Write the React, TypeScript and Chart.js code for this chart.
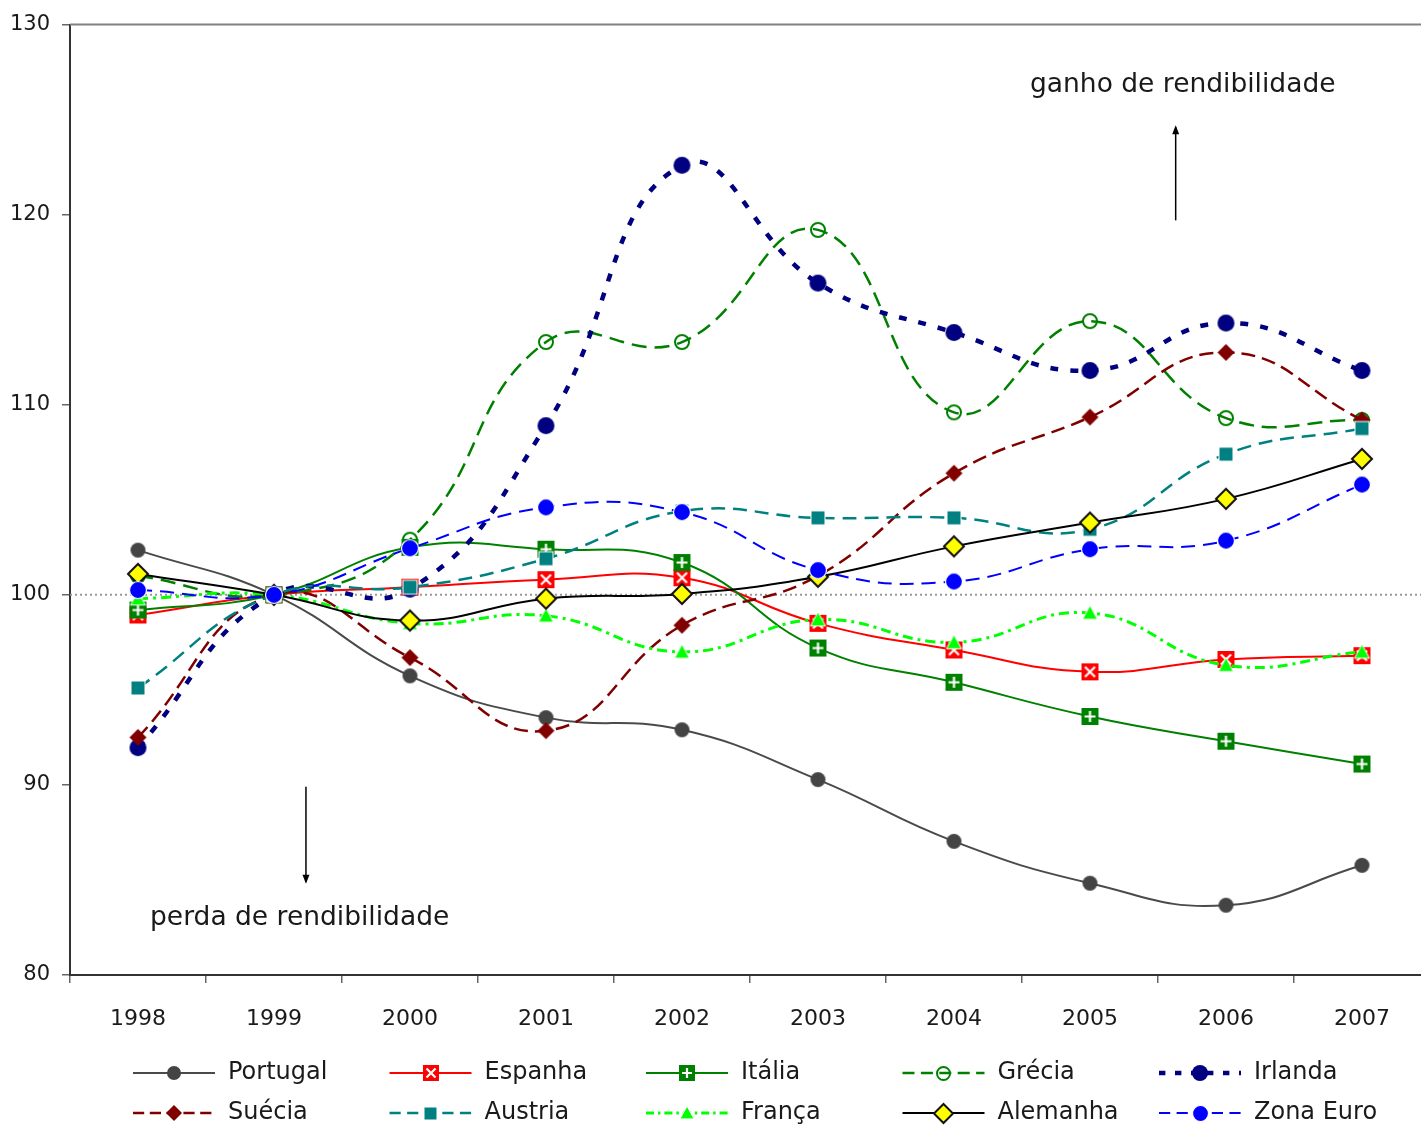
import React, { useEffect, useRef } from "react";
import { Chart, registerables } from "chart.js";

Chart.register(...registerables);

const FONT = '"DejaVu Sans", sans-serif';

const years = ["1998", "1999", "2000", "2001", "2002", "2003", "2004", "2005", "2006", "2007"];
const yTicks = [80, 90, 100, 110, 120, 130];

const portugal = [102.35, 100, 95.74, 93.54, 92.9, 90.28, 87.03, 84.83, 83.67, 85.77];
const espanha = [98.94, 100, 100.4, 100.8, 100.9, 98.5, 97.1, 95.95, 96.6, 96.8];
const italia = [99.2, 100, 102.5, 102.4, 101.7, 97.2, 95.4, 93.6, 92.3, 91.1];
const grecia = [101.0, 100, 102.9, 113.3, 113.3, 119.2, 109.6, 114.4, 109.3, 109.2];
const irlanda = [91.96, 100, 100.3, 108.9, 122.6, 116.4, 113.8, 111.8, 114.3, 111.8];
const suecia = [92.5, 100, 96.7, 92.85, 98.4, 101.0, 106.4, 109.35, 112.75, 109.2];
const austria = [95.1, 100, 100.4, 101.9, 104.4, 104.05, 104.05, 103.45, 107.4, 108.75];
const franca = [99.8, 100, 98.5, 98.9, 97.0, 98.7, 97.5, 99.05, 96.3, 97.0];
const alemanha = [101.1, 100, 98.65, 99.8, 100.05, 100.95, 102.55, 103.8, 105.05, 107.15];
const zonaEuro = [100.25, 100, 102.45, 104.6, 104.35, 101.3, 100.7, 102.4, 102.85, 105.8];

const seriesNames = ["Portugal", "Espanha", "Itália", "Grécia", "Irlanda", "Suécia", "Austria", "França", "Alemanha", "Zona Euro"];
const seriesData = [portugal, espanha, italia, grecia, irlanda, suecia, austria, franca, alemanha, zonaEuro];

type Style = { color: string; width: number; dash: number[]; marker: string; mColor: string; size: number };
const styles: Style[] = [
  { color: "#4a4a4a", width: 2, dash: [], marker: "circle", mColor: "#444444", size: 15 },
  { color: "#ff0000", width: 2, dash: [], marker: "squareX", mColor: "#ff0000", size: 17 },
  { color: "#008000", width: 2, dash: [], marker: "squarePlus", mColor: "#008000", size: 17 },
  { color: "#008000", width: 2.5, dash: [15, 8], marker: "open", mColor: "#008000", size: 16 },
  { color: "#000080", width: 4.5, dash: [8, 12], marker: "circle", mColor: "#000080", size: 17 },
  { color: "#800000", width: 2.5, dash: [14, 7], marker: "diamond", mColor: "#800000", size: 17 },
  { color: "#008080", width: 2.5, dash: [14, 8], marker: "square", mColor: "#008080", size: 14 },
  { color: "#00ff00", width: 3, dash: [10, 5, 3, 5], marker: "triangle", mColor: "#00ff00", size: 15 },
  { color: "#000000", width: 2, dash: [], marker: "diamondB", mColor: "#ffff00", size: 22 },
  { color: "#0000ff", width: 2, dash: [14, 8], marker: "circleW", mColor: "#0000ff", size: 18 },
];

function makeMarker(kind: string, color: string, size: number): HTMLCanvasElement {
  const pad = 2;
  const d = Math.ceil(size + pad * 2);
  const c = document.createElement("canvas");
  c.width = d;
  c.height = d;
  const ctx = c.getContext("2d")!;
  const m = d / 2;
  const h = size / 2;
  ctx.lineJoin = "miter";
  switch (kind) {
    case "circle":
      ctx.beginPath();
      ctx.arc(m, m, h, 0, Math.PI * 2);
      ctx.fillStyle = color;
      ctx.fill();
      break;
    case "circleW":
      ctx.beginPath();
      ctx.arc(m, m, h - 0.5, 0, Math.PI * 2);
      ctx.fillStyle = color;
      ctx.fill();
      ctx.strokeStyle = "#ffffff";
      ctx.lineWidth = 1.2;
      ctx.stroke();
      break;
    case "open":
      ctx.beginPath();
      ctx.arc(m, m, h - 1, 0, Math.PI * 2);
      ctx.strokeStyle = color;
      ctx.lineWidth = 2;
      ctx.stroke();
      break;
    case "squareX":
      ctx.fillStyle = color;
      ctx.fillRect(m - h, m - h, size, size);
      ctx.strokeStyle = "#ffffff";
      ctx.lineWidth = 2.2;
      ctx.beginPath();
      ctx.moveTo(m - h + 3.5, m - h + 3.5);
      ctx.lineTo(m + h - 3.5, m + h - 3.5);
      ctx.moveTo(m + h - 3.5, m - h + 3.5);
      ctx.lineTo(m - h + 3.5, m + h - 3.5);
      ctx.stroke();
      break;
    case "squarePlus":
      ctx.fillStyle = color;
      ctx.fillRect(m - h, m - h, size, size);
      ctx.strokeStyle = "#ffffff";
      ctx.lineWidth = 2.2;
      ctx.beginPath();
      ctx.moveTo(m, m - h + 3);
      ctx.lineTo(m, m + h - 3);
      ctx.moveTo(m - h + 3, m);
      ctx.lineTo(m + h - 3, m);
      ctx.stroke();
      break;
    case "square":
      ctx.fillStyle = color;
      ctx.fillRect(m - h, m - h, size, size);
      ctx.strokeStyle = "#ffffff";
      ctx.lineWidth = 1;
      ctx.strokeRect(m - h, m - h, size, size);
      break;
    case "diamond":
    case "diamondB": {
      const k = kind === "diamondB" ? 1 : 0;
      ctx.beginPath();
      ctx.moveTo(m, m - h + k);
      ctx.lineTo(m + h - k, m);
      ctx.lineTo(m, m + h - k);
      ctx.lineTo(m - h + k, m);
      ctx.closePath();
      ctx.fillStyle = color;
      ctx.fill();
      if (k) {
        ctx.strokeStyle = "#111111";
        ctx.lineWidth = 2;
        ctx.stroke();
      }
      break;
    }
    case "triangle":
      ctx.beginPath();
      ctx.moveTo(m, m - h);
      ctx.lineTo(m + h, m + h * 0.85);
      ctx.lineTo(m - h, m + h * 0.85);
      ctx.closePath();
      ctx.fillStyle = color;
      ctx.fill();
      ctx.strokeStyle = "#ffffff";
      ctx.lineWidth = 1;
      ctx.stroke();
      break;
  }
  return c;
}

export default function App() {
  const ref = useRef<HTMLCanvasElement | null>(null);

  useEffect(() => {
    const canvas = ref.current;
    if (!canvas) return;
    const markers = styles.map((s) => makeMarker(s.marker, s.mColor, s.size));
    const legendMarkers = styles.map((s) => makeMarker(s.marker, s.mColor, Math.round(s.size * 0.95)));

    const datasets = seriesNames.map((name, i) => ({
      label: name,
      data: seriesData[i],
      borderColor: styles[i].color,
      backgroundColor: styles[i].mColor,
      borderWidth: styles[i].width,
      borderDash: styles[i].dash,
      pointStyle: markers[i] as any,
      pointRadius: 8,
      tension: 0.45,
      fill: false,
      clip: false as any,
      order: 9 - i,
    }));

    const deco = {
      id: "deco",
      beforeDatasetsDraw(chart: any) {
        const { ctx, chartArea, scales } = chart;
        ctx.save();
        ctx.strokeStyle = "#808080";
        ctx.lineWidth = 2;
        ctx.beginPath();
        ctx.moveTo(chartArea.left, chartArea.top);
        ctx.lineTo(chartArea.right, chartArea.top);
        ctx.stroke();
        const y100 = scales.y.getPixelForValue(100);
        ctx.strokeStyle = "#999999";
        ctx.lineWidth = 2;
        ctx.setLineDash([2, 3]);
        ctx.beginPath();
        ctx.moveTo(chartArea.left, y100);
        ctx.lineTo(chartArea.right, y100);
        ctx.stroke();
        ctx.restore();
      },
      afterDraw(chart: any) {
        const { ctx, scales, chartArea } = chart;
        const x = scales.x;
        const y = scales.y;
        const step = x.getPixelForValue(1) - x.getPixelForValue(0);
        ctx.save();
        ctx.fillStyle = "#1a1a1a";
        ctx.font = `22px ${FONT}`;
        ctx.textAlign = "center";
        ctx.textBaseline = "middle";
        years.forEach((yr, i) => {
          ctx.fillText(yr, x.getPixelForValue(i), chartArea.bottom + 44);
        });

        ctx.font = `26.5px ${FONT}`;
        ctx.textAlign = "left";
        ctx.fillText("ganho de rendibilidade", 1030, y.getPixelForValue(126.8));
        ctx.fillText("perda de rendibilidade", 150, y.getPixelForValue(83.0));

        const arrow = (ax: number, y1: number, y2: number) => {
          ctx.strokeStyle = "#000";
          ctx.fillStyle = "#000";
          ctx.lineWidth = 1.5;
          ctx.beginPath();
          ctx.moveTo(ax, y1);
          ctx.lineTo(ax, y2);
          ctx.stroke();
          const dir = y2 < y1 ? -1 : 1;
          ctx.beginPath();
          ctx.moveTo(ax, y2 + dir * 2);
          ctx.lineTo(ax - 3.5, y2 - dir * 7);
          ctx.lineTo(ax + 3.5, y2 - dir * 7);
          ctx.closePath();
          ctx.fill();
        };
        const ax1 = x.getPixelForValue(7) + step * 0.63;
        arrow(ax1, y.getPixelForValue(119.7), y.getPixelForValue(124.6));
        const ax2 = x.getPixelForValue(1) + step * 0.235;
        arrow(ax2, y.getPixelForValue(89.9), y.getPixelForValue(84.9));

        ctx.font = `24px ${FONT}`;
        ctx.textBaseline = "middle";
        seriesNames.forEach((name, i) => {
          const row = Math.floor(i / 5);
          const col = i % 5;
          const x0 = 133 + col * 256.5;
          const ly = 1073 + row * 40;
          const s = styles[i];
          ctx.save();
          ctx.strokeStyle = s.color;
          ctx.lineWidth = s.width;
          ctx.setLineDash(s.dash.length ? s.dash.map((v) => v * 0.8) : []);
          ctx.beginPath();
          ctx.moveTo(x0, ly);
          ctx.lineTo(x0 + 82, ly);
          ctx.stroke();
          ctx.restore();
          const mk = legendMarkers[i];
          ctx.drawImage(mk, Math.round(x0 + 41 - mk.width / 2), Math.round(ly - mk.height / 2));
          ctx.fillStyle = "#1a1a1a";
          ctx.textAlign = "left";
          ctx.fillText(name, x0 + 95, ly);
        });
        ctx.restore();
      },
    };

    const chart = new Chart(canvas, {
      type: "line",
      data: { labels: years, datasets: datasets as any },
      options: {
        animation: false,
        responsive: false,
        maintainAspectRatio: false,
        layout: { autoPadding: false, padding: { top: 23, right: 0, left: 0, bottom: 0 } },
        plugins: {
          legend: { display: false },
          tooltip: { enabled: false },
        },
        scales: {
          x: {
            offset: true,
            grid: { offset: true, drawOnChartArea: false, drawTicks: true, tickLength: 8, color: "#666", lineWidth: 1.5 },
            border: { color: "#333", width: 2 },
            ticks: { display: false, autoSkip: false, maxRotation: 0 },
            afterFit: (s: any) => {
              s.height = 150;
              s.paddingLeft = 0;
              s.paddingRight = 0;
            },
          },
          y: {
            min: yTicks[0],
            max: yTicks[yTicks.length - 1],
            afterBuildTicks: (s: any) => {
              s.ticks = yTicks.map((v) => ({ value: v }));
            },
            grid: { drawOnChartArea: false, drawTicks: true, tickLength: 8, color: "#666", lineWidth: 1.5 },
            border: { color: "#333", width: 2 },
            ticks: { color: "#1a1a1a", font: { size: 21, family: FONT }, padding: 12 },
            afterFit: (s: any) => {
              s.width = 70;
            },
          },
        },
      },
      plugins: [deco],
    });
    return () => chart.destroy();
  }, []);

  return (
    <div style={{ position: "fixed", left: 0, top: 0, width: 1421, height: 1125, overflow: "hidden", background: "#fff" }}>
      <canvas ref={ref} width={1430} height={1125} style={{ display: "block", width: 1430, height: 1125 }} />
    </div>
  );
}
